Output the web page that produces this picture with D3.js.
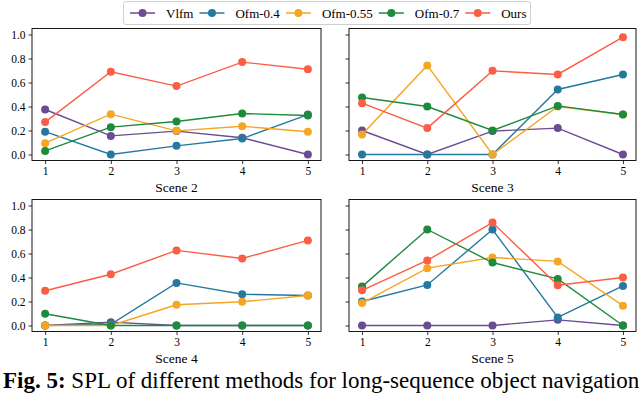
<!DOCTYPE html>
<html><head><meta charset="utf-8">
<script src="https://cdn.jsdelivr.net/npm/d3@7/dist/d3.min.js"></script>
<style>body{margin:0;background:#fff}svg{display:block}text{font-family:"Liberation Serif","Times New Roman",serif}</style>
</head><body>
<svg id="c" width="640" height="394"></svg>
<script>
const steps = [1, 2, 3, 4, 5];
const scenes = ["Scene 2", "Scene 3", "Scene 4", "Scene 5"];
const methods = ["Vlfm", "Ofm-0.4", "Ofm-0.55", "Ofm-0.7", "Ours"];
const colors = ["#6b4b92", "#26799e", "#f5a623", "#1e8a3c", "#fb5d45"];
const yTicks = [0.0, 0.2, 0.4, 0.6, 0.8, 1.0];
// values per method: one array per scene (Scene 2, 3, 4, 5)
const vlfm   = [[0.375, 0.155, 0.195, 0.14, 0.0], [0.20, 0.0, 0.195, 0.22, 0.0], [0.0, 0.028, 0.0, 0.0, 0.0], [0.0, 0.0, 0.0, 0.047, 0.0]];
const ofm040 = [[0.19, 0.0, 0.072, 0.133, 0.333], [0.0, 0.0, 0.0, 0.542, 0.667], [0.0, 0.01, 0.355, 0.26, 0.25], [0.20, 0.338, 0.80, 0.067, 0.33]];
const ofm055 = [[0.094, 0.336, 0.197, 0.236, 0.19], [0.167, 0.742, 0.0, 0.40, 0.333], [0.0, 0.0, 0.173, 0.198, 0.25], [0.187, 0.478, 0.567, 0.534, 0.165]];
const ofm070 = [[0.03, 0.228, 0.275, 0.342, 0.325], [0.475, 0.40, 0.20, 0.405, 0.333], [0.098, 0.0, 0.0, 0.0, 0.0], [0.324, 0.80, 0.525, 0.388, 0.0]];
const ours   = [[0.27, 0.69, 0.57, 0.77, 0.71], [0.428, 0.22, 0.697, 0.667, 0.978], [0.29, 0.427, 0.626, 0.559, 0.709], [0.293, 0.542, 0.858, 0.335, 0.40]];
const allSeries = [vlfm, ofm040, ofm055, ofm070, ours];

const svg = d3.select("#c");
const font = "Liberation Serif";
const panels = [
  {l: 32, r: 321, t: 28.5, b: 160.5, labels: true},
  {l: 349, r: 636, t: 28.5, b: 160.5, labels: false},
  {l: 32, r: 321, t: 199.5, b: 331.5, labels: true},
  {l: 349, r: 636, t: 199.5, b: 331.5, labels: false}
];

panels.forEach((p, si) => {
  const x = d3.scaleLinear().domain([0.8, 5.2]).range([p.l, p.r]);
  const y = d3.scaleLinear().domain([-0.05, 1.05]).range([p.b, p.t]);
  const g = svg.append("g");
  const xa = g.append("g").attr("transform", `translate(0,${p.b})`)
    .call(d3.axisBottom(x).tickValues(steps).tickFormat(d3.format("d")).tickSize(3.5).tickPadding(3));
  const ya = g.append("g").attr("transform", `translate(${p.l},0)`)
    .call(d3.axisLeft(y).tickValues(yTicks).tickFormat(p.labels ? d3.format(".1f") : () => "").tickSize(3.5).tickPadding(3));
  [xa, ya].forEach(a => {
    a.attr("font-family", font).attr("font-size", 11.5);
    a.select(".domain").remove();
    a.selectAll("line").attr("stroke", "#000").attr("stroke-width", 0.8);
    a.selectAll("text").attr("fill", "#000");
  });
  allSeries.forEach((ser, mi) => {
    const vals = ser[si];
    const line = d3.line().x((d, i) => x(steps[i])).y(d => y(d));
    g.append("path").datum(vals).attr("d", line).attr("fill", "none")
      .attr("stroke", colors[mi]).attr("stroke-width", 1.4);
    g.selectAll(null).data(vals).enter().append("circle")
      .attr("cx", (d, i) => x(steps[i])).attr("cy", d => y(d)).attr("r", 4)
      .attr("fill", colors[mi]);
  });
  g.append("rect").attr("x", p.l).attr("y", p.t).attr("width", p.r - p.l).attr("height", p.b - p.t)
    .attr("fill", "none").attr("stroke", "#000").attr("stroke-width", 0.9);
  g.append("text").attr("x", (p.l + p.r) / 2).attr("y", p.b + 31).attr("text-anchor", "middle")
    .attr("font-family", font).attr("font-size", 13.5).text(scenes[si]);
});

// legend
const lg = svg.append("g");
const box = lg.append("rect").attr("x", 123.5).attr("y", 1.5).attr("height", 23).attr("rx", 2.5)
  .attr("fill", "#fff").attr("stroke", "#d0d0d0").attr("stroke-width", 1);
let lx = 130;
methods.forEach((m, i) => {
  lg.append("line").attr("x1", lx).attr("x2", lx + 25).attr("y1", 13).attr("y2", 13)
    .attr("stroke", colors[i]).attr("stroke-width", 1.5);
  lg.append("circle").attr("cx", lx + 12.5).attr("cy", 13).attr("r", 4).attr("fill", colors[i]);
  const t = lg.append("text").attr("x", lx + 36).attr("y", 17.5).attr("font-family", font)
    .attr("font-size", 13).text(m);
  lx = lx + 36 + t.node().getComputedTextLength() + 6;
});
box.attr("width", lx - 123.5 - 2);

// caption
const cap = svg.append("text").attr("x", 3).attr("y", 387.5).attr("font-family", font).attr("font-size", 23);
cap.append("tspan").attr("font-weight", "bold").text("Fig. 5:");
cap.append("tspan").text(" SPL of different methods for long-sequence object navigation");
</script>
</body></html>
